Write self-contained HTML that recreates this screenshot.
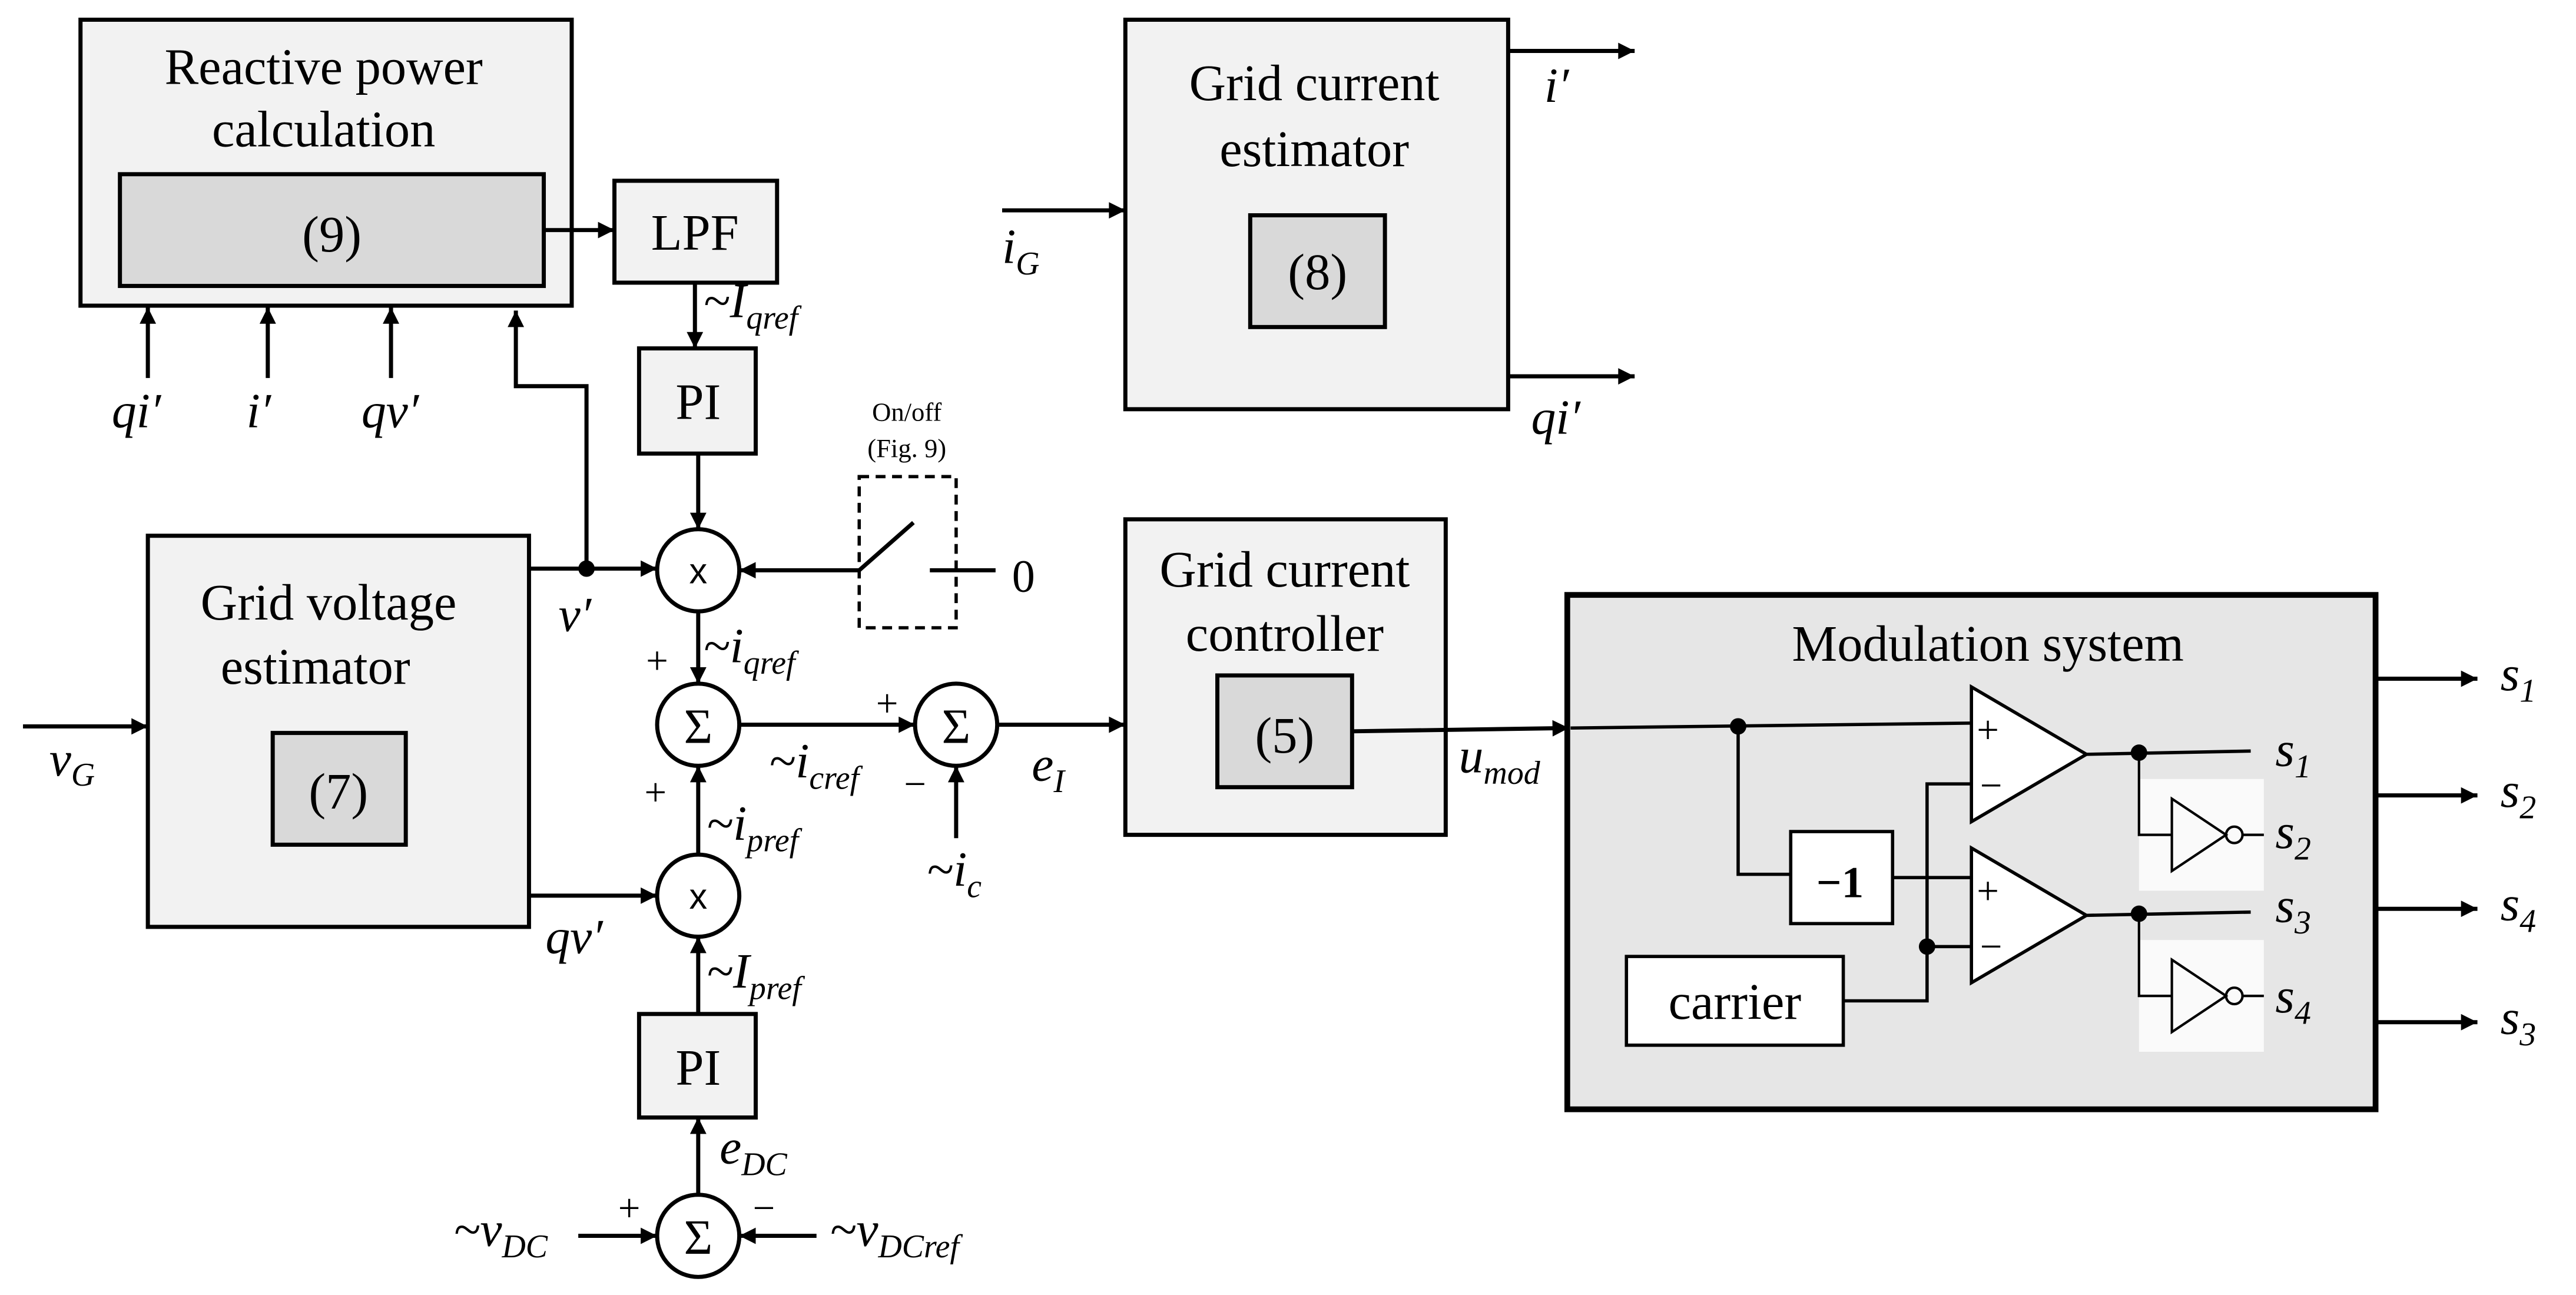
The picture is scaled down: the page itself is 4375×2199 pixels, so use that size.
<!DOCTYPE html>
<html><head><meta charset="utf-8"><style>
html,body{margin:0;padding:0;background:#fff;}
svg{display:block;}
text{font-family:"Liberation Serif",serif;fill:#000;}
.t{text-anchor:middle;}
.i{font-style:italic;font-size:30px;}
.s{font-size:20px;font-style:italic;}
</style></head><body>
<svg width="4375" height="2199" viewBox="0 0 1568 788" preserveAspectRatio="none" xmlns="http://www.w3.org/2000/svg">
<defs><marker id="b" viewBox="0 0 10 10" refX="10" refY="5" markerWidth="12" markerHeight="10" orient="auto" markerUnits="userSpaceOnUse"><path d="M0,0L10,5L0,10z" fill="#000"/></marker></defs>
<g stroke="#000" stroke-width="2.5" fill="none">
<rect x="49" y="12" width="299" height="174" fill="#f2f2f2"/>
<rect x="73" y="106" width="258" height="68" fill="#d9d9d9"/>
<line x1="331" y1="140" x2="374" y2="140" marker-end="url(#b)"/>
<rect x="374" y="110" width="99" height="62" fill="#f2f2f2"/>
<line x1="423" y1="172" x2="423" y2="212" marker-end="url(#b)"/>
<rect x="389" y="212" width="71" height="64" fill="#f2f2f2"/>
<line x1="425" y1="276" x2="425" y2="322" marker-end="url(#b)"/>
<line x1="90" y1="230" x2="90" y2="187" marker-end="url(#b)"/>
<line x1="163" y1="230" x2="163" y2="187" marker-end="url(#b)"/>
<line x1="238" y1="230" x2="238" y2="187" marker-end="url(#b)"/>
<polyline points="357,346 357,235 314,235 314,189" marker-end="url(#b)"/>
<rect x="90" y="326" width="232" height="238" fill="#f2f2f2"/>
<rect x="166" y="446" width="81" height="68" fill="#d9d9d9"/>
<line x1="322" y1="346" x2="400" y2="346" marker-end="url(#b)"/>
<line x1="322" y1="545" x2="400" y2="545" marker-end="url(#b)"/>
<line x1="14" y1="442" x2="90" y2="442" marker-end="url(#b)"/>
<circle cx="425" cy="347" r="25" fill="#fff"/>
<circle cx="425" cy="441" r="25" fill="#fff"/>
<circle cx="582" cy="441" r="25" fill="#fff"/>
<circle cx="425" cy="545" r="25" fill="#fff"/>
<circle cx="425" cy="752" r="25" fill="#fff"/>
<line x1="425" y1="372" x2="425" y2="416" marker-end="url(#b)"/>
<line x1="450" y1="441" x2="557" y2="441" marker-end="url(#b)"/>
<line x1="582" y1="510" x2="582" y2="466" marker-end="url(#b)"/>
<line x1="425" y1="520" x2="425" y2="466" marker-end="url(#b)"/>
<line x1="425" y1="617" x2="425" y2="570" marker-end="url(#b)"/>
<rect x="389" y="617" width="71" height="63" fill="#f2f2f2"/>
<line x1="425" y1="727" x2="425" y2="680" marker-end="url(#b)"/>
<line x1="352" y1="752" x2="400" y2="752" marker-end="url(#b)"/>
<line x1="497" y1="752" x2="450" y2="752" marker-end="url(#b)"/>
<rect x="523" y="290" width="59" height="92" stroke-dasharray="6,4" stroke-width="2"/>
<line x1="523" y1="347" x2="450" y2="347" marker-end="url(#b)"/>
<line x1="523" y1="347" x2="556" y2="318"/>
<line x1="566" y1="347" x2="606" y2="347"/>
<line x1="607" y1="441" x2="685" y2="441" marker-end="url(#b)"/>
<rect x="685" y="316" width="195" height="192" fill="#f2f2f2"/>
<rect x="741" y="411" width="82" height="68" fill="#d9d9d9"/>
<line x1="823" y1="445" x2="955" y2="443" marker-end="url(#b)"/>
<rect x="685" y="12" width="233" height="237" fill="#f2f2f2"/>
<rect x="761" y="131" width="82" height="68" fill="#d9d9d9"/>
<line x1="610" y1="128" x2="685" y2="128" marker-end="url(#b)"/>
<line x1="918" y1="31" x2="995" y2="31" marker-end="url(#b)"/>
<line x1="918" y1="229" x2="995" y2="229" marker-end="url(#b)"/>
<rect x="954" y="362" width="492" height="313" fill="#e6e6e6" stroke-width="3.5"/>
<line x1="1446" y1="413" x2="1508" y2="413" marker-end="url(#b)"/>
<line x1="1446" y1="484" x2="1508" y2="484" marker-end="url(#b)"/>
<line x1="1446" y1="553" x2="1508" y2="553" marker-end="url(#b)"/>
<line x1="1446" y1="622" x2="1508" y2="622" marker-end="url(#b)"/>
<line x1="956" y1="443" x2="1200" y2="440" stroke-width="2"/>
<polyline points="1058,442 1058,532 1090,532" stroke-width="2"/>
<rect x="1090" y="506" width="62" height="56" fill="#fff" stroke-width="2"/>
<line x1="1152" y1="534" x2="1200" y2="534" stroke-width="2"/>
<rect x="990" y="582" width="132" height="54" fill="#fff" stroke-width="2"/>
<polyline points="1122,609 1173,609 1173,477 1200,477" stroke-width="2"/>
<line x1="1173" y1="576" x2="1200" y2="576" stroke-width="2"/>
<polygon points="1200,418 1200,500 1270,459" fill="#fff" stroke-width="2"/>
<polygon points="1200,516 1200,598 1270,557" fill="#fff" stroke-width="2"/>
<line x1="1270" y1="459" x2="1370" y2="457" stroke-width="2"/>
<line x1="1270" y1="557" x2="1370" y2="555" stroke-width="2"/>
<rect x="1302" y="474" width="76" height="68" fill="#fafafa" stroke="none"/>
<rect x="1302" y="572" width="76" height="68" fill="#fafafa" stroke="none"/>
<polyline points="1302,458 1302,508 1322,508" stroke-width="1.5"/>
<polyline points="1302,556 1302,606 1322,606" stroke-width="1.5"/>
<polygon points="1322,486 1322,530 1355,508" stroke-width="1.5"/>
<polygon points="1322,584 1322,628 1355,606" stroke-width="1.5"/>
<circle cx="1360" cy="508" r="5" stroke-width="1.5"/>
<circle cx="1360" cy="606" r="5" stroke-width="1.5"/>
<line x1="1365" y1="508" x2="1378" y2="508" stroke-width="1.5"/>
<line x1="1365" y1="606" x2="1378" y2="606" stroke-width="1.5"/>
</g>
<g fill="#000">
<circle cx="357" cy="346" r="5"/><circle cx="1058" cy="442" r="5"/><circle cx="1173" cy="576" r="5"/>
<circle cx="1302" cy="458" r="5"/><circle cx="1302" cy="556" r="5"/>
</g>
<g style="font-size:31px">
<text class="t" x="197" y="51">Reactive power</text>
<text class="t" x="197" y="89">calculation</text>
<text class="t" x="202" y="153">(9)</text>
<text class="t" x="423" y="152">LPF</text>
<text class="t" x="425" y="255">PI</text>
<text class="t" x="425" y="660">PI</text>
<text class="t" x="200" y="377">Grid voltage</text>
<text class="t" x="192" y="416">estimator</text>
<text class="t" x="206" y="492">(7)</text>
<text class="t" x="782" y="357">Grid current</text>
<text class="t" x="782" y="396">controller</text>
<text class="t" x="782" y="458">(5)</text>
<text class="t" x="800" y="61">Grid current</text>
<text class="t" x="800" y="101">estimator</text>
<text class="t" x="802" y="176">(8)</text>
<text class="t" x="1210" y="402">Modulation system</text>
<text class="t" x="1056" y="620">carrier</text>
</g>
<text class="t" x="1120" y="546" style="font-size:27px;font-weight:bold">−1</text>
<text class="t" x="425" y="355" style="font-size:22px;font-family:'Liberation Sans',sans-serif">x</text>
<text class="t" x="425" y="553" style="font-size:22px;font-family:'Liberation Sans',sans-serif">x</text>
<text class="t" x="425" y="452" style="font-size:30px">Σ</text>
<text class="t" x="582" y="452" style="font-size:30px">Σ</text>
<text class="t" x="425" y="763" style="font-size:30px">Σ</text>
<text class="t" x="552" y="256" style="font-size:16px">On/off</text>
<text class="t" x="552" y="278" style="font-size:16px">(Fig. 9)</text>
<text class="t" x="623" y="360" style="font-size:28px">0</text>
<g style="font-size:24px;font-family:'Liberation Sans',sans-serif" text-anchor="middle">
<text x="400" y="410">+</text><text x="399" y="490">+</text><text x="540" y="436">+</text><text x="557" y="485">−</text>
<text x="383" y="743">+</text><text x="465" y="743">−</text>
<text x="1210" y="452">+</text><text x="1212" y="486">−</text>
<text x="1210" y="550">+</text><text x="1212" y="584">−</text>
</g>
<text class="i" x="68" y="260">qi′</text>
<text class="i" x="150" y="260">i′</text>
<text class="i" x="220" y="260">qv′</text>
<text class="i" x="340" y="384">v′</text>
<text class="i" x="332" y="580">qv′</text>
<text class="i" x="30" y="472">v<tspan class="s" dy="6">G</tspan></text>
<text class="i" x="428" y="193">~I<tspan class="s" dy="7">qref</tspan></text>
<text class="i" x="428" y="403">~i<tspan class="s" dy="7">qref</tspan></text>
<text class="i" x="468" y="473">~i<tspan class="s" dy="7">cref</tspan></text>
<text class="i" x="430" y="511">~i<tspan class="s" dy="7">pref</tspan></text>
<text class="i" x="430" y="601">~I<tspan class="s" dy="7">pref</tspan></text>
<text class="i" x="564" y="539">~i<tspan class="s" dy="7">c</tspan></text>
<text class="i" x="628" y="475">e<tspan class="s" dy="7">I</tspan></text>
<text class="i" x="438" y="708">e<tspan class="s" dy="7">DC</tspan></text>
<text class="i" x="276" y="758">~v<tspan class="s" dy="7">DC</tspan></text>
<text class="i" x="505" y="758">~v<tspan class="s" dy="7">DCref</tspan></text>
<text class="i" x="888" y="470">u<tspan class="s" dy="7">mod</tspan></text>
<text class="i" x="610" y="160">i<tspan class="s" dy="7">G</tspan></text>
<text class="i" x="940" y="62">i′</text>
<text class="i" x="932" y="264">qi′</text>
<text class="i" x="1385" y="466">s<tspan class="s" dy="7">1</tspan></text>
<text class="i" x="1385" y="516">s<tspan class="s" dy="7">2</tspan></text>
<text class="i" x="1385" y="561">s<tspan class="s" dy="7">3</tspan></text>
<text class="i" x="1385" y="616">s<tspan class="s" dy="7">4</tspan></text>
<text class="i" x="1522" y="420">s<tspan class="s" dy="7">1</tspan></text>
<text class="i" x="1522" y="491">s<tspan class="s" dy="7">2</tspan></text>
<text class="i" x="1522" y="560">s<tspan class="s" dy="7">4</tspan></text>
<text class="i" x="1522" y="629">s<tspan class="s" dy="7">3</tspan></text>
</svg>
</body></html>
